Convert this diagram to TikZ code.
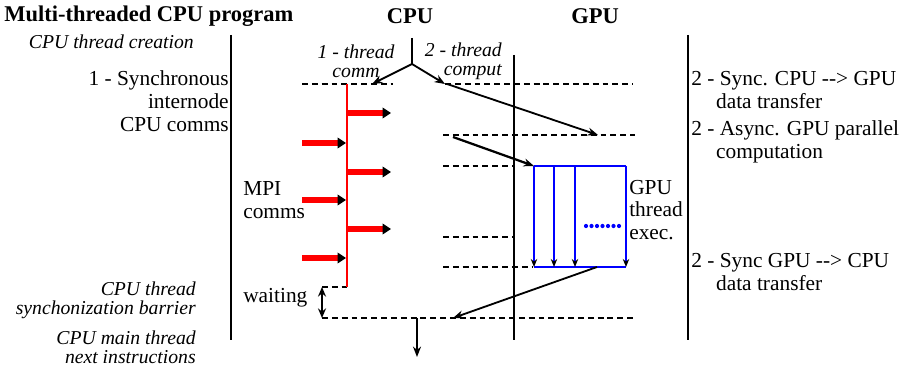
\documentclass[tikz,border=0pt]{standalone}
\usepackage{fontspec}
\setmainfont{Liberation Serif}
\usetikzlibrary{arrows.meta}

\tikzset{
  lane/.style={line width=1.4pt},
  tline/.style={line width=1.3pt, dash pattern=on 4.2pt off 2.8pt},
  flow/.style={line width=1.3pt, -{Stealth[length=2.6mm,width=2mm]}},
  mpi/.style={red, line width=3.8pt, -{Triangle[black,length=2.1mm,width=2.6mm]}},
  kern/.style={blue, line width=1.5pt, -{Stealth[black,length=2mm,width=1.6mm]}},
  lbl/.style={inner sep=0pt, font=\fontsize{15.2}{16.3}\selectfont},
  note/.style={inner sep=0pt, font=\fontsize{14}{13.6}\selectfont\itshape},
}

\begin{document}
\begin{tikzpicture}[x=0.025cm,y=-0.025cm]
  \useasboundingbox (0,0) rectangle (906,367);
  %% headings
  \node[lbl, font=\fontsize{16}{17}\selectfont\bfseries, anchor=west] (title) at (4,16) {Multi-threaded CPU program};
  \node[lbl, font=\fontsize{16}{17}\selectfont\bfseries] (cpu) at (410,16) {CPU};
  \node[lbl, font=\fontsize{16}{17}\selectfont\bfseries] (gpu) at (595,16) {GPU};

  %% lanes
  \draw[lane] (231,35) -- (231,340);
  \draw[lane] (514,55) -- (514,340);
  \draw[lane] (688,35) -- (688,340);

  %% main thread forks into two threads
  \coordinate (fork) at (412,64);
  \coordinate (comm) at (372,84);
  \coordinate (comp) at (445,84);
  \draw[lane] (412,38) -- (fork);
  \draw[flow] (fork) -- (comm);
  \draw[flow] (fork) -- (comp);

  %% time marks
  \draw[tline] (302,84) -- (393,84);
  \draw[tline] (comp) -- (633,84);
  \draw[tline] (443,135) -- (635,135);
  \foreach \y in {166,237}
    \draw[tline] (443,\y) -- (513,\y);
  \draw[tline] (443,267) -- (533,267);
  \draw[tline] (322,287) -- (347,287);
  \draw[tline] (322,318) -- (633,318);

  %% thread 1: MPI comms
  \draw[red, line width=1.4pt] (347,84) -- (347,287);
  \foreach \y in {113,172,229}
    \draw[mpi] (347,\y) -- (391,\y);
  \foreach \y in {143,200,258}
    \draw[mpi] (302,\y) -- (346,\y);

  %% thread 2: transfers and GPU kernel
  \coordinate (h2d) at (598,135);
  \coordinate (kstart) at (453,137);
  \coordinate (ktop) at (534,166);
  \coordinate (kend) at (597,267);
  \coordinate (join) at (453,318);
  \draw[flow] (447,84) -- (h2d);
  \draw[flow, line width=1.6pt] (kstart) -- (ktop);
  \draw[blue, line width=1.5pt] (ktop) -- (626,166);
  \draw[blue, line width=1.5pt] (534,267) -- (626,267);
  \foreach \x in {534,554,575,626}
    \draw[kern] (\x,166) -- (\x,267);
  \foreach \i in {0,...,6}
    \fill[blue] (586+5.5*\i,226) circle (1.5pt);
  \draw[flow] (kend) -- (join);

  %% barrier and what follows
  \coordinate (wtop) at (322,287);
  \coordinate (wbot) at (322,318);
  \coordinate (next) at (417,357);
  \draw[line width=1.6pt, {Stealth[length=2.4mm,width=2mm]}-{Stealth[length=2.4mm,width=2mm]}] (wtop) -- (wbot);
  \draw[flow] (417,318) -- (next);

  %% left column
  \node[note, anchor=east] (create) at (194,42) {CPU thread creation};
  \node[lbl, anchor=east, align=right] (syncmpi) at (229,101) {1 - Synchronous\\internode\\CPU comms};
  \node[note, anchor=east, align=right] (barrier) at (196,300) {CPU thread\\synchonization barrier};
  \node[note, anchor=east, align=right] (after) at (196,347) {CPU main thread\\next instructions};

  %% middle
  \node[note, align=center] (thr1) at (356,61) {1 - thread\\comm};
  \node[note, anchor=east, align=right] (thr2) at (502,61) {2 - thread\\comput};
  \node[lbl, anchor=west, align=left] (mpilbl) at (243,200) {MPI\\comms};
  \node[lbl, anchor=west] (wait) at (243,298) {waiting};
  \node[lbl, anchor=west, align=left] (gthr) at (629,210) {GPU\\thread\\exec.};

  %% right column
  \node[lbl, anchor=west, align=left] (cpugpu) at (691,90) {2 - Sync. CPU -{}-{}> GPU\\\hspace*{6.2mm}data transfer};
  \node[lbl, anchor=west, align=left] (async) at (691,142) {2 - Async. GPU parallel\\\hspace*{6.2mm}computation};
  \node[lbl, anchor=west, align=left] (gpucpu) at (691,272) {2 - Sync GPU -{}-{}> CPU\\\hspace*{6.2mm}data transfer};
\end{tikzpicture}
\end{document}
